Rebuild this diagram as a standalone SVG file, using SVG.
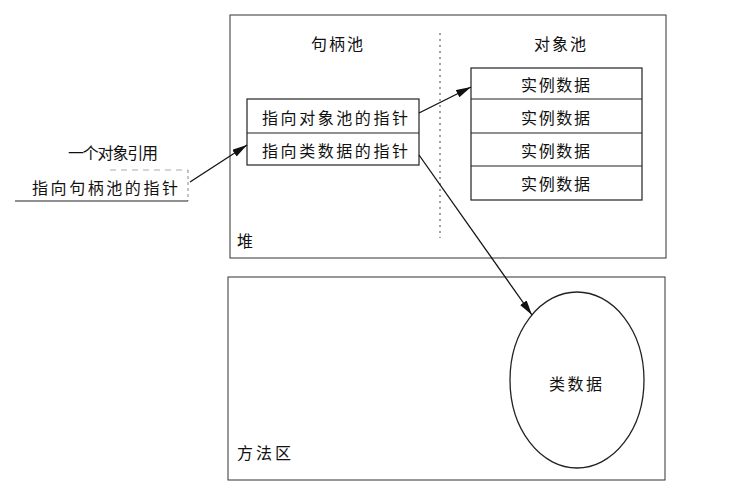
<svg xmlns="http://www.w3.org/2000/svg" width="752" height="489" viewBox="0 0 752 489">
<style>
  .t { font-family: "Noto Sans CJK SC", "Noto Sans", sans-serif; font-size: 16px; fill: #111; dominant-baseline: central; }
  .box { fill: none; stroke: #222; stroke-width: 1.2; }
  .area { fill: none; stroke: #333; stroke-width: 1; }
  .conn { stroke: #111; stroke-width: 1.3; fill: none; marker-end: url(#ah); }
</style>
<defs>
  <marker id="ah" viewBox="0 0 15 8" refX="15" refY="4" markerWidth="15" markerHeight="8" markerUnits="userSpaceOnUse" orient="auto">
    <path d="M0,0 L15,4 L0,8 Z" fill="#111"/>
  </marker>
</defs>
<rect width="752" height="489" fill="#fff"/>

<g id="heap">
  <rect class="area" x="230" y="15" width="436" height="243"/>
  <line x1="440" y1="33" x2="440" y2="238" stroke="#444" stroke-width="1" stroke-dasharray="2,4"/>
  <text class="t" x="237" y="240">堆</text>
</g>

<g id="handle-pool-label"><text class="t" x="311" y="43" textLength="52" lengthAdjust="spacing">句柄池</text></g>
<g id="object-pool-label"><text class="t" x="534" y="43" textLength="52" lengthAdjust="spacing">对象池</text></g>

<g id="handle-pool">
  <rect class="box" x="247" y="99" width="172" height="66"/>
  <line class="box" x1="247" y1="133" x2="419" y2="133"/>
  <text class="t" x="262" y="117" textLength="146" lengthAdjust="spacing">指向对象池的指针</text>
  <text class="t" x="262" y="150" textLength="146" lengthAdjust="spacing">指向类数据的指针</text>
</g>

<g id="object-pool">
  <rect class="box" x="471" y="68" width="171" height="132"/>
  <line class="box" x1="471" y1="99" x2="642" y2="99"/>
  <line class="box" x1="471" y1="133" x2="642" y2="133"/>
  <line class="box" x1="471" y1="166" x2="642" y2="166"/>
  <text class="t" x="521" y="84" textLength="69" lengthAdjust="spacing">实例数据</text>
  <text class="t" x="521" y="117" textLength="69" lengthAdjust="spacing">实例数据</text>
  <text class="t" x="521" y="150" textLength="69" lengthAdjust="spacing">实例数据</text>
  <text class="t" x="521" y="183" textLength="69" lengthAdjust="spacing">实例数据</text>
</g>

<g id="method-area">
  <rect class="area" x="228" y="277" width="437" height="203"/>
  <text class="t" x="237" y="452" textLength="54" lengthAdjust="spacing">方法区</text>
</g>

<g id="class-data">
  <ellipse cx="577" cy="380" rx="67" ry="88" fill="none" stroke="#222" stroke-width="1.3"/>
  <text class="t" x="549" y="383" textLength="53" lengthAdjust="spacing">类数据</text>
</g>

<g id="reference">
  <text class="t" x="68" y="152" textLength="90" lengthAdjust="spacing">一个对象引用</text>
  <line x1="110" y1="170" x2="188" y2="170" stroke="#aaa" stroke-width="1" stroke-dasharray="6,5"/>
  <line x1="188" y1="170" x2="188" y2="201" stroke="#888" stroke-width="1" stroke-dasharray="3,3"/>
  <line x1="15" y1="201" x2="188" y2="201" stroke="#222" stroke-width="1.2"/>
  <text class="t" x="32" y="187" textLength="146" lengthAdjust="spacing">指向句柄池的指针</text>
</g>

<g id="connectors">
  <line class="conn" x1="190" y1="182" x2="247" y2="145"/>
  <line class="conn" x1="419" y1="113" x2="471" y2="87"/>
  <line class="conn" x1="419" y1="155" x2="532" y2="315"/>
</g>
</svg>
